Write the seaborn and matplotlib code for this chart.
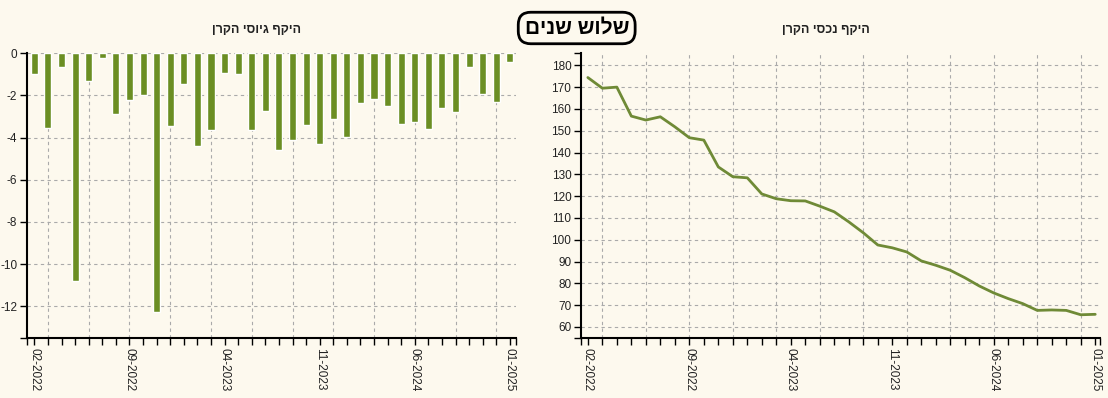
import matplotlib
matplotlib.use("Agg")
import matplotlib.pyplot as plt
import seaborn as sns
import pandas as pd
import numpy as np

# ---------------- data ----------------
months = ['02-2022', '03-2022', '04-2022', '05-2022', '06-2022', '07-2022', '08-2022',
          '09-2022', '10-2022', '11-2022', '12-2022',
          '01-2023', '02-2023', '03-2023', '04-2023', '05-2023', '06-2023', '07-2023',
          '08-2023', '09-2023', '10-2023', '11-2023', '12-2023',
          '01-2024', '02-2024', '03-2024', '04-2024', '05-2024', '06-2024', '07-2024',
          '08-2024', '09-2024', '10-2024', '11-2024', '12-2024',
          '01-2025']
raised = [-0.96, -3.52, -0.63, -10.82, -1.30, -0.20, -2.90, -2.23, -1.96, -12.29, -3.47, -1.47,
          -4.38, -3.62, -0.92, -0.96, -3.62, -2.72, -4.61, -4.09, -3.38, -4.28, -3.13, -3.95,
          -2.38, -2.15, -2.48, -3.33, -3.24, -3.57, -2.57, -2.76, -0.63, -1.91, -2.29, -0.39]
assets = [174.4, 169.5, 170.0, 156.7, 154.9, 156.4, 151.8, 146.8, 145.7, 133.4, 128.9, 128.4,
          121.0, 118.8, 117.9, 117.8, 115.4, 112.8, 108.2, 103.2, 97.6, 96.3, 94.4, 90.3,
          88.3, 86.0, 82.6, 78.8, 75.6, 73.0, 70.7, 67.6, 67.8, 67.6, 65.6, 65.8]
left_yticks = [0, -2, -4, -6, -8, -10, -12]
right_yticks = [60, 70, 80, 90, 100, 110, 120, 130, 140, 150, 160, 170, 180]
label_every = 7

main_title = "שלוש שנים"
left_title = "היקף גיוסי הקרן"
right_title = "היקף נכסי הקרן"

# ---------------- style ----------------
BG = "#fdf9ee"
GREEN = "#6b8e23"
LINE = "#6f8a36"
GRID = "#aaaaaa"

sns.set_theme(style="white", rc={"figure.facecolor": BG, "axes.facecolor": BG,
                                 "xtick.bottom": True, "ytick.left": True})
plt.rcParams['font.family'] = ['Liberation Sans', 'DejaVu Sans']


def rtl(s):
    return s[::-1]


df = pd.DataFrame({"month": months, "idx": np.arange(len(months)),
                   "raised": raised, "assets": assets})
quarter_pos = [i for i, m in enumerate(months) if int(m[:2]) % 3 == 0]
xlabels = [m if i % label_every == 0 else "" for i, m in enumerate(months)]

fig = plt.figure(figsize=(11.08, 3.98), dpi=100)
axL = fig.add_axes([0.0244, 0.150, 0.4413, 0.716])
axR = fig.add_axes([0.5244, 0.150, 0.4684, 0.716])

sns.barplot(data=df, x="idx", y="raised", color=GREEN, width=0.52, saturation=1,
            ax=axL, zorder=3)
sns.lineplot(data=df, x="idx", y="assets", color=LINE, linewidth=2, ax=axR, zorder=3)


def style_axis(ax, xlim, ylim, yticks):
    ax.set_xlim(*xlim)
    ax.set_ylim(*ylim)
    ax.set_xlabel("")
    ax.set_ylabel("")
    for s in ["top", "right"]:
        ax.spines[s].set_visible(False)
    for s in ["left", "bottom"]:
        ax.spines[s].set_color("black")
        ax.spines[s].set_linewidth(1.5)
    ax.set_xticks(range(len(months)))
    ax.set_xticklabels(xlabels, rotation=270, fontsize=8.5, color="#222222")
    ax.set_xticks(list(xlim), minor=True)
    ax.set_yticks(yticks)
    ax.set_yticklabels([str(v) for v in yticks], fontsize=8.5, color="#222222")
    ax.set_yticks(list(ylim), minor=True)
    ax.tick_params(axis="both", which="both", direction="out", length=5, width=1,
                   color="black", pad=2, bottom=True, left=True)
    ax.grid(False)
    for y in yticks:
        ax.axhline(y, color=GRID, lw=0.8, ls=(0, (3, 3)), zorder=1)
    for x in quarter_pos:
        ax.axvline(x, color=GRID, lw=0.8, ls=(0, (3, 3)), zorder=1)
    for lbl in ax.get_xticklabels():
        lbl.set_va("top")
        lbl.set_ha("center")


style_axis(axL, (-0.54, 35.45), (-13.52, 0), left_yticks)
style_axis(axR, (-0.47, 35.33), (54.8, 185.5), right_yticks)
if axR.get_legend():
    axR.get_legend().remove()

fig.text(257 / 1108, 1 - 30 / 398, rtl(left_title), ha="center", va="center",
         fontsize=9, fontweight="bold", color="#222222")
fig.text(826 / 1108, 1 - 30 / 398, rtl(right_title), ha="center", va="center",
         fontsize=9, fontweight="bold", color="#222222")
fig.text(576.7 / 1108, 1 - 28 / 398, rtl(main_title), ha="center", va="center",
         fontsize=15, fontweight="bold", color="black",
         bbox=dict(boxstyle="round,pad=0.3,rounding_size=0.6", fc=BG, ec="black", lw=2))

fig.savefig("out.png", dpi=100, facecolor=BG)
